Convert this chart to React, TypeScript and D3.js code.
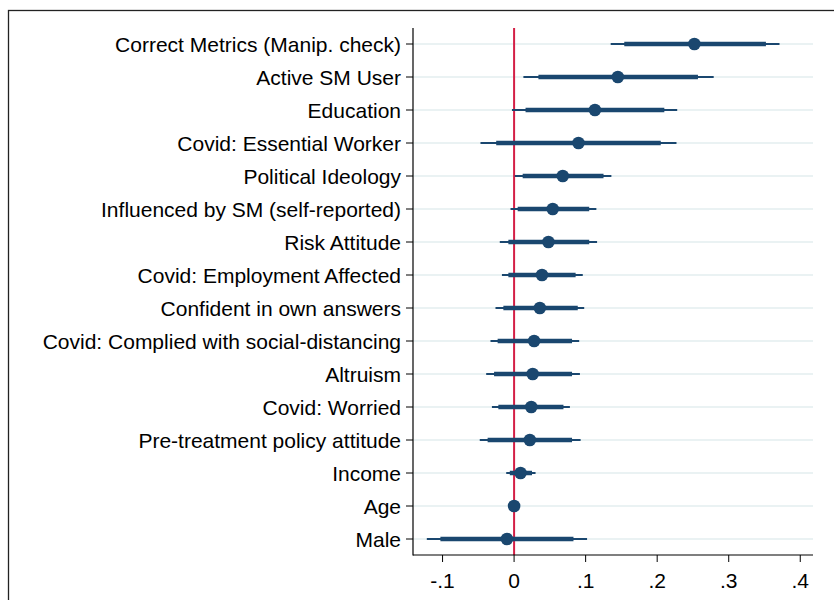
import React from 'react';
import * as d3 from 'd3';

// coefficient plot, rows listed top to bottom
const labels = [
  'Correct Metrics (Manip. check)', 'Active SM User', 'Education', 'Covid: Essential Worker',
  'Political Ideology', 'Influenced by SM (self-reported)', 'Risk Attitude', 'Covid: Employment Affected',
  'Confident in own answers', 'Covid: Complied with social-distancing', 'Altruism', 'Covid: Worried',
  'Pre-treatment policy attitude', 'Income', 'Age', 'Male',
];
const coef = [0.252, 0.145, 0.113, 0.090, 0.068, 0.054, 0.048, 0.039, 0.036, 0.028, 0.026, 0.024, 0.022, 0.009, 0.0, -0.010];
const lo90 = [0.154, 0.034, 0.016, -0.025, 0.012, 0.005, -0.008, -0.008, -0.015, -0.023, -0.028, -0.022, -0.037, -0.006, -0.001, -0.103];
const hi90 = [0.352, 0.257, 0.210, 0.205, 0.125, 0.105, 0.105, 0.086, 0.089, 0.081, 0.081, 0.069, 0.081, 0.025, 0.001, 0.083];
const lo95 = [0.135, 0.013, -0.003, -0.047, 0.001, -0.005, -0.020, -0.017, -0.026, -0.033, -0.039, -0.031, -0.048, -0.011, -0.001, -0.122];
const hi95 = [0.371, 0.279, 0.228, 0.227, 0.136, 0.115, 0.116, 0.096, 0.098, 0.091, 0.092, 0.078, 0.093, 0.030, 0.001, 0.102];
const xTicks = [-0.1, 0, 0.1, 0.2, 0.3, 0.4];

const W = 834, H = 600;
const left = 413, right = 813, top = 28, bottom = 555;
const navy = '#1a476f';
const font = 'Liberation Sans, Arial, sans-serif';

const fmt = (v: number) => v === 0 ? '0' : d3.format('.1f')(v).replace('0.', '.').replace('\u2212', '-');

export default function App() {
  const x = d3.scaleLinear().domain([-0.1413, 0.4178]).range([left, right]);
  const y = d3.scalePoint().domain(labels).range([44, 539]);

  return (
    <svg width={W} height={H} style={{position: 'absolute', left: 0, top: 0}}>
      <rect x={0} y={0} width={W} height={H} fill="#fff" />
      <rect x={8.5} y={10.5} width={W + 10} height={H + 10} fill="none" stroke="#222" strokeWidth={1.3} />
      <g>
        {labels.map(l => (
          <line key={'g' + l} x1={left} x2={right} y1={y(l)} y2={y(l)} stroke="#eaf2f3" strokeWidth={2} />
        ))}
      </g>
      <line x1={x(0)} x2={x(0)} y1={top} y2={bottom} stroke="#d41f46" strokeWidth={2} />
      <g>
        {labels.map((l, i) => (
          <g key={'c' + l}>
            <line x1={x(lo95[i])} x2={x(hi95[i])} y1={y(l)} y2={y(l)} stroke={navy} strokeWidth={2} />
            <line x1={x(lo90[i])} x2={x(hi90[i])} y1={y(l)} y2={y(l)} stroke={navy} strokeWidth={4.5} />
            <circle cx={x(coef[i])} cy={y(l)} r={6.3} fill={navy} />
          </g>
        ))}
      </g>
      {/* axes */}
      <line x1={left} x2={left} y1={top} y2={bottom + 0.5} stroke="#000" strokeWidth={1.2} />
      <line x1={left} x2={right} y1={bottom} y2={bottom} stroke="#000" strokeWidth={1.2} />
      {labels.map(l => (
        <g key={'t' + l}>
          <line x1={left - 7} x2={left} y1={y(l)} y2={y(l)} stroke="#000" strokeWidth={1} />
          <text x={left - 12} y={y(l)} dy="0.36em" textAnchor="end" fontFamily={font} fontSize={21} fill="#000">{l}</text>
        </g>
      ))}
      {xTicks.map(t => (
        <g key={'x' + t}>
          <line x1={x(t)} x2={x(t)} y1={bottom} y2={bottom + 7} stroke="#000" strokeWidth={1} />
          <text x={x(t)} y={588} textAnchor="middle" fontFamily={font} fontSize={21} fill="#000">{fmt(t)}</text>
        </g>
      ))}
    </svg>
  );
}
